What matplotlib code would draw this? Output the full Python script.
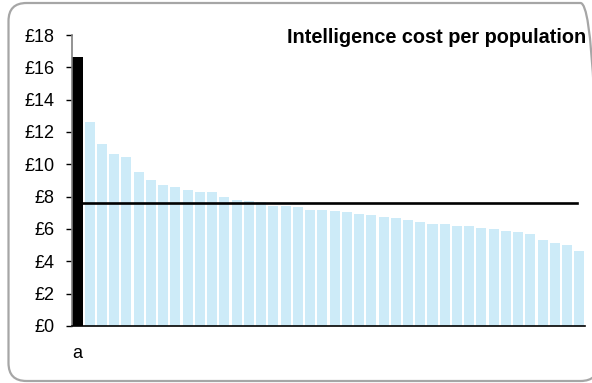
import numpy as np
import matplotlib.pyplot as plt
from matplotlib.patches import FancyBboxPatch
from matplotlib.transforms import IdentityTransform

plt.rcParams['font.family'] = ['Liberation Sans', 'DejaVu Sans']

# cost per population, highlighted force first, then the others sorted
highlight = 16.64
others = [12.63, 11.25, 10.61, 10.43, 9.52, 9.02, 8.71, 8.57, 8.44, 8.30,
          8.28, 7.97, 7.78, 7.76, 7.65, 7.45, 7.41, 7.35, 7.18, 7.16,
          7.10, 7.04, 6.92, 6.85, 6.73, 6.65, 6.54, 6.44, 6.28, 6.28,
          6.21, 6.19, 6.05, 5.99, 5.90, 5.84, 5.68, 5.31, 5.14, 5.00, 4.64]
labels = ["a"] + [""] * len(others)
average = 7.62
yticks = list(range(0, 19, 2))
ytick_labels = ["£%d" % v for v in yticks]

values = [highlight] + others
x = np.arange(len(values))
colors = ["black"] + ["#cdebf8"] * len(others)

fig = plt.figure(figsize=(5.92, 3.83), dpi=100)
ax = fig.add_axes([0.1216, 0.149, 0.8664, 0.7596])

ax.bar(x, values, width=0.82, color=colors, zorder=2)
ax.plot([0.45, len(values) - 1.2], [average, average], color="black", lw=1.9, zorder=3)

ax.set_xlim(-0.45, len(values) - 0.55)
ax.set_ylim(0, 18)
ax.set_yticks(yticks)
ax.set_yticklabels(ytick_labels, fontsize=13)
ax.set_xticks(x)
ax.set_xticklabels(labels, fontsize=13)
ax.tick_params(axis="x", length=0, pad=14)
ax.tick_params(axis="y", length=4.5, width=1, pad=8, direction="out")

for s in ["top", "right"]:
    ax.spines[s].set_visible(False)
ax.spines["left"].set_color("#808080")
ax.spines["left"].set_linewidth(1.2)
ax.spines["bottom"].set_color("black")
ax.spines["bottom"].set_linewidth(1.2)

ax.text(1.003, 0.99, "Intelligence cost per population", transform=ax.transAxes,
        ha="right", va="center", fontsize=14.3, fontweight="bold")

# rounded border around the whole chart
frame = FancyBboxPatch((8.5, 2), 590, 378, boxstyle="round,pad=0,rounding_size=18",
                       transform=IdentityTransform(), fill=False,
                       edgecolor="#a6a6a6", lw=1.6)
fig.add_artist(frame)

plt.savefig("out.png", dpi=100)
